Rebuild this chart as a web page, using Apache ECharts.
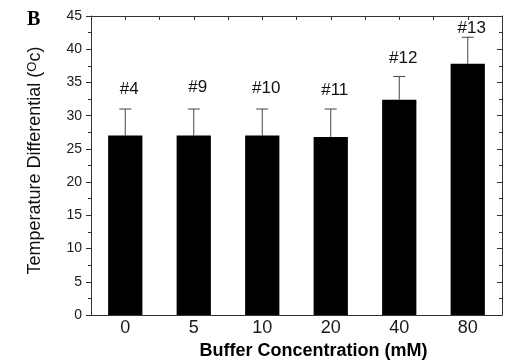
<!DOCTYPE html>
<html>
<head>
<meta charset="utf-8">
<script src="https://cdn.jsdelivr.net/npm/echarts@6/dist/echarts.min.js"></script>
<style>
  html, body { margin: 0; padding: 0; background: #fff; }
  #chart { width: 507px; height: 360px; }
</style>
</head>
<body>
<div id="chart"></div>
<script>
// Buffer concentration groups and measured temperature differentials
const categories = ['0', '5', '10', '20', '40', '80'];
const meanValues = [27, 27, 27, 26.8, 32.4, 37.8];
const upperErrors = [4, 4, 4, 4.2, 3.5, 4];
const sampleLabels = ['#4', '#9', '#10', '#11', '#12', '#13'];
const labelHeights = [33.9, 34.2, 34.1, 33.8, 38.7, 43.1];
const yTicks = [0, 45, 5];

const axisColor = '#333';
const textColor = '#1a1a1a';
const font = 'Liberation Sans, Arial, sans-serif';

const chart = echarts.init(document.getElementById('chart'), null, { renderer: 'canvas' });

const errorData = meanValues.map((v, i) => [i, v, v + upperErrors[i]]);
const labelData = labelHeights.map((h, i) => [i, h, sampleLabels[i]]);

chart.setOption({
  animation: false,
  backgroundColor: '#fff',
  grid: { left: 91, top: 16, right: 5, bottom: 45, containLabel: false, outerBoundsMode: 'none' },
  graphic: [{
    type: 'text', left: 27, top: 10,
    style: { text: 'B', font: 'bold 20px "Liberation Serif", "Times New Roman", serif', fill: '#000' }
  }],
  xAxis: [{
    type: 'category',
    data: categories,
    position: 'bottom',
    axisLine: { onZero: false, lineStyle: { color: axisColor, width: 1 } },
    axisTick: { inside: true, length: 4, lineStyle: { color: axisColor } },
    axisLabel: { color: textColor, fontFamily: font, fontSize: 18, margin: 4 },
    name: 'Buffer Concentration (mM)',
    nameLocation: 'middle',
    nameGap: 26,
    nameTextStyle: { color: '#000', fontFamily: font, fontSize: 18, fontWeight: 'bold', padding: [0, 0, 0, 34] }
  }, {
    type: 'value',
    position: 'top',
    min: -0.5, max: 5.5, interval: 0.5,
    axisLine: { show: true, onZero: false, lineStyle: { color: axisColor, width: 1 } },
    axisTick: { show: true, inside: true, length: 4, lineStyle: { color: axisColor } },
    axisLabel: { show: false },
    splitLine: { show: false }
  }],
  yAxis: [{
    type: 'value',
    position: 'left',
    min: yTicks[0], max: yTicks[1], interval: yTicks[2],
    axisLine: { show: true, onZero: false, lineStyle: { color: axisColor, width: 1 } },
    axisTick: { show: true, inside: false, length: 5, lineStyle: { color: axisColor } },
    minorTick: { show: true, splitNumber: 2, length: 3, lineStyle: { color: axisColor } },
    axisLabel: { color: textColor, fontFamily: font, fontSize: 14, margin: 9 },
    splitLine: { show: false },
    name: '{a|Temperature Differential (}{s|O}{a|c)}',
    nameLocation: 'middle',
    nameGap: 46,
    nameTextStyle: {
      padding: [0, 0, 0, 10],
      rich: {
        a: { color: '#111', fontFamily: font, fontSize: 18 },
        s: { color: '#111', fontFamily: font, fontSize: 13, verticalAlign: 'top', padding: [0, 0, 6, 0] }
      }
    }
  }, {
    type: 'value',
    position: 'right',
    min: yTicks[0], max: yTicks[1], interval: yTicks[2],
    axisLine: { show: true, onZero: false, lineStyle: { color: axisColor, width: 1 } },
    axisTick: { show: true, inside: true, length: 5, lineStyle: { color: axisColor } },
    minorTick: { show: true, splitNumber: 2, length: 3, lineStyle: { color: axisColor } },
    axisLabel: { show: false },
    splitLine: { show: false }
  }],
  series: [{
    type: 'bar',
    data: meanValues,
    barWidth: '50%',
    itemStyle: { color: '#000' },
    z: 2
  }, {
    // upper error bars with caps
    type: 'custom',
    data: errorData,
    z: 3,
    renderItem: function (params, api) {
      const x = api.value(0);
      const base = api.coord([x, api.value(1)]);
      const top = api.coord([x, api.value(2)]);
      const half = 6;
      const style = { stroke: '#444', lineWidth: 1 };
      return {
        type: 'group',
        children: [
          { type: 'line', shape: { x1: base[0], y1: base[1], x2: top[0], y2: top[1] }, style: style },
          { type: 'line', shape: { x1: top[0] - half, y1: top[1], x2: top[0] + half, y2: top[1] }, style: style }
        ]
      };
    }
  }, {
    // sample identifiers above each bar
    type: 'custom',
    data: labelData,
    z: 4,
    renderItem: function (params, api) {
      const p = api.coord([api.value(0), api.value(1)]);
      return {
        type: 'text',
        x: p[0] + 4, y: p[1],
        style: {
          text: sampleLabels[params.dataIndex],
          font: '17px ' + font,
          fill: '#111',
          align: 'center',
          verticalAlign: 'middle'
        }
      };
    }
  }]
});
</script>
</body>
</html>
